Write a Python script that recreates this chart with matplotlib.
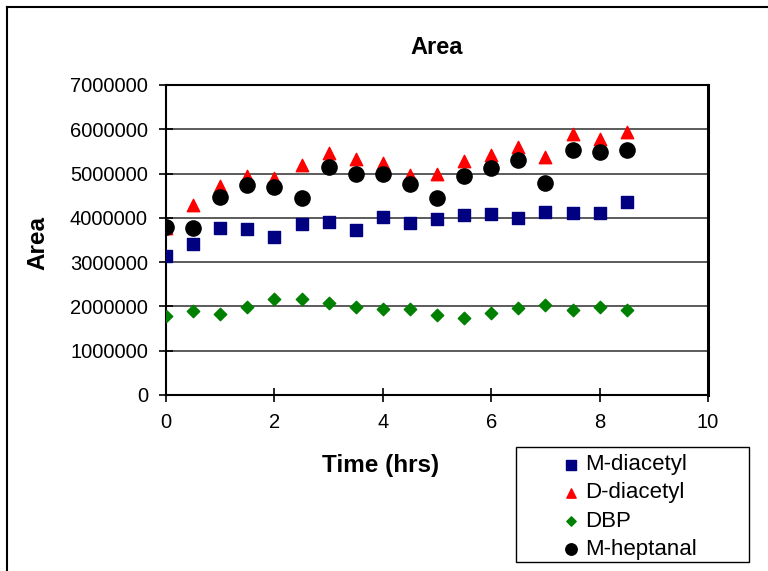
import numpy as np
import matplotlib.pyplot as plt
from matplotlib.lines import Line2D
from matplotlib.patches import Rectangle

plt.rcParams['font.family'] = ['Liberation Sans', 'DejaVu Sans']

time = [0, 0.5, 1, 1.5, 2, 2.5, 3, 3.5, 4, 4.5, 5, 5.5, 6, 6.5, 7, 7.5, 8, 8.5]

m_diacetyl = [3150000, 3420000, 3780000, 3750000, 3570000, 3860000, 3910000, 3730000, 4020000,
              3890000, 3980000, 4070000, 4090000, 4000000, 4130000, 4120000, 4120000, 4360000]
d_diacetyl = [3780000, 4300000, 4720000, 4940000, 4890000, 5190000, 5460000, 5330000, 5230000,
              4970000, 4990000, 5280000, 5420000, 5610000, 5370000, 5890000, 5770000, 5950000]
dbp = [1790000, 1900000, 1830000, 1980000, 2160000, 2160000, 2080000, 1990000, 1950000,
       1950000, 1810000, 1750000, 1860000, 1960000, 2030000, 1930000, 1980000, 1930000]
m_heptanal = [3800000, 3780000, 4480000, 4740000, 4690000, 4450000, 5140000, 4990000, 4990000,
              4760000, 4450000, 4940000, 5120000, 5300000, 4790000, 5530000, 5480000, 5530000]

fig = plt.figure(figsize=(7.68, 5.71), dpi=100)
ax = fig.add_axes([166/768, 1-395/571, (708-166)/768, (395-85)/571])

ax.scatter(time, m_diacetyl, marker='s', s=75, color='#000080', label='M-diacetyl', zorder=3)
ax.scatter(time, d_diacetyl, marker='^', s=80, color='#ff0000', label='D-diacetyl', zorder=3)
ax.scatter(time, dbp, marker='D', s=40, color='#008000', label='DBP', zorder=3)
ax.scatter(time, m_heptanal, marker='o', s=120, color='black', label='M-heptanal', zorder=4)

ax.set_xlim(0, 10)
ax.set_ylim(0, 7000000)
ax.set_xticks([0, 2, 4, 6, 8, 10])
ax.set_yticks(np.arange(0, 7000001, 1000000))
ax.set_yticklabels([str(v) for v in range(0, 7000001, 1000000)])
ax.yaxis.grid(True, color='#404040', linewidth=1.2)
ax.set_axisbelow(True)
ax.tick_params(direction='inout', length=10, width=1.2, labelsize=14.5)
ax.tick_params(axis='y', pad=8)
ax.tick_params(axis='x', pad=8)
for s in ax.spines.values():
    s.set_linewidth(1.5)
ax.spines['right'].set_linewidth(2.2)

ax.set_title('Area', fontsize=17, fontweight='bold', pad=22)
ax.set_xlabel('Time (hrs)', fontsize=17.5, fontweight='bold')
ax.xaxis.set_label_coords(0.395, -0.19)
ax.set_ylabel('Area', fontsize=17.5, fontweight='bold')
ax.yaxis.set_label_coords(-0.216, 0.49)

# legend box drawn separately, entries centred inside it
fig.add_artist(Rectangle((516/768, 1-562/571), (749-516)/768, (562-447)/571, fill=False,
                         edgecolor='black', linewidth=1.0, transform=fig.transFigure))
leg = fig.legend(loc='center', bbox_to_anchor=(627/768, 1-507/571), fontsize=16, frameon=False,
                 handletextpad=0.05, labelspacing=0.32, markerscale=0.75, handlelength=1.2)

# outer frame lines (top and left)
fig.add_artist(Line2D([7/768, 1], [1-7/571, 1-7/571], color='black', linewidth=1.5, transform=fig.transFigure))
fig.add_artist(Line2D([7/768, 7/768], [0, 1-7/571], color='black', linewidth=1.5, transform=fig.transFigure))

fig.savefig('out.png', dpi=100)
